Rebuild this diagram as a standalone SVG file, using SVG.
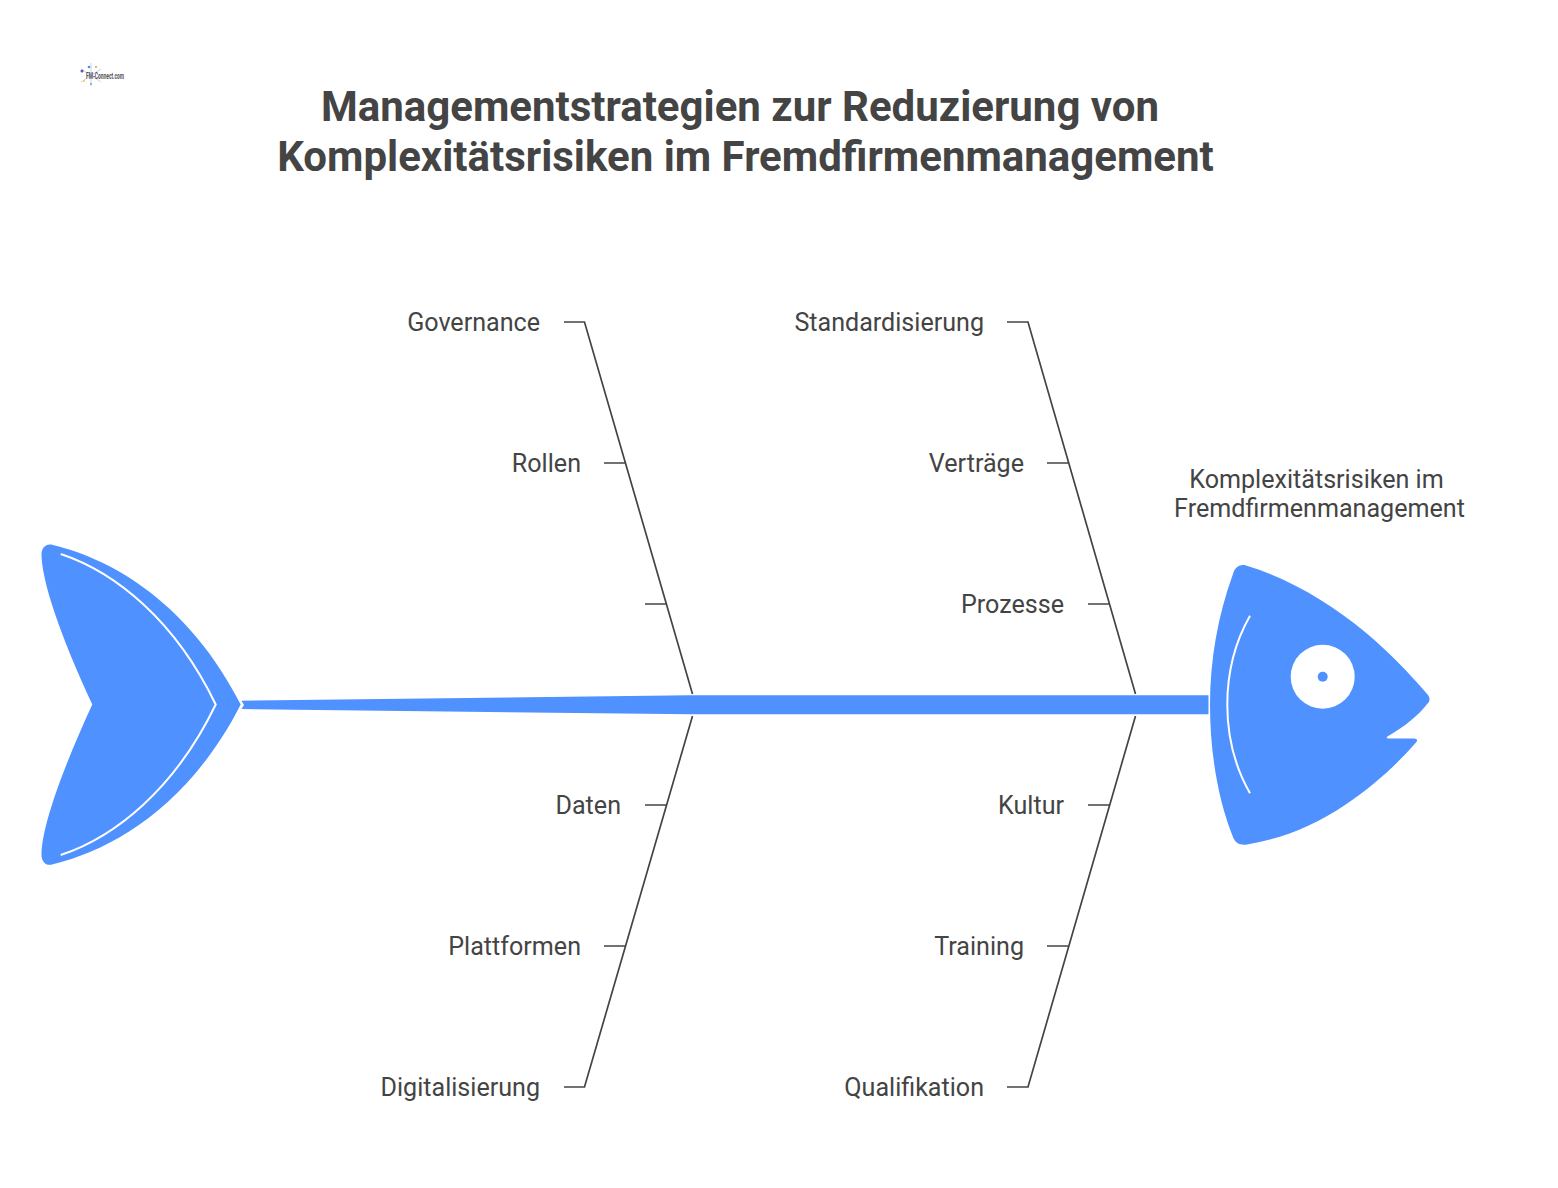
<svg xmlns="http://www.w3.org/2000/svg" width="1558" height="1188" viewBox="0 0 1558 1188">
<style>
text{font-family:Roboto,"Liberation Sans",sans-serif;fill:#444}
.t{font-size:42px;font-weight:700;text-anchor:middle}
.l{font-size:25.1px;text-anchor:end}
.c{font-size:25.1px;text-anchor:middle}
.b{fill:none;stroke:#444;stroke-width:1.7}
.f{fill:#4e91ff}
.w{fill:none;stroke:#fff;stroke-width:2}
</style>
<rect width="1558" height="1188" fill="#fff"/>
<g id="logo">
<g fill="none" stroke="#c9d3e6" stroke-width="1"><path d="M91 63V86M81 69L101 82M81 82L101 69"/></g>
<circle cx="82" cy="71" r="1.5" fill="#6a4fa8"/><circle cx="89" cy="67" r="1.3" fill="#4e91d0"/><circle cx="96" cy="67" r="1" fill="#e0a030"/><circle cx="84" cy="81" r="1" fill="#e8d040"/><circle cx="91" cy="84" r="1" fill="#60b0d0"/>
<text x="86" y="79" style="font-size:9px;font-weight:700;fill:#555" textLength="38" lengthAdjust="spacingAndGlyphs">FM-Connect.com</text>
</g>
<g id="title">
<text class="t" x="740" y="120.800">Managementstrategien zur Reduzierung von</text>
<text class="t" x="745.500" y="170.800">Komplexitätsrisiken im Fremdfirmenmanagement</text>
</g>
<g id="connectors">
<path id="spine" class="f" d="M241.500 700.700L690 695.300H1208.500V714.300H690L241.500 709L244 705Z"/>
<path class="b" d="M564 322H584.500L692.500 694M604 463H625.500M645 604H666.500"/>
<path class="b" d="M1007 322H1028L1135.500 694M1047 463H1069M1088 604H1110"/>
<path class="b" d="M564 1087H584.500L692.500 716M645 805H666.500M604 946H625.500"/>
<path class="b" d="M1007 1087H1028L1135.500 716M1088 805H1110M1047 946H1069"/>
</g>
<g id="tail">
<path class="f" d="M53 545C115 560 190 605 240.700 704.500C190 804 115 849 53 864.300C46 866.500 41 862 41.500 853C43 820 68 757 92.300 704.500C68 652 43 590 41.500 556C41 548 46 543 53 545Z"/>
<path class="w" d="M60.700 554C115 572 175 620 215.700 704.500C175 789 115 837 60.700 855"/>
</g>
<g id="head">
<path class="f" d="M1246 565.500C1290 579 1330 603 1365 632C1388 651 1410 674 1428 695C1430 698 1430 701 1428 703C1418 716 1404 727 1387.500 736.500C1386 737.500 1387 738.500 1389 738.500H1414C1417 738.500 1418 740.500 1416 742.500C1398 763 1375 785 1345 805C1315 825 1282 839 1247 844.500C1240 845.500 1235 843 1233 837C1218 800 1210 752 1210 705C1210 660 1218 615 1233 574C1235 567 1240 564 1246 565.500Z"/>
<path class="w" d="M1250 615.700C1235 642 1227.300 672 1227.300 704.700C1227.300 737 1235 767 1250 793.300"/>
<circle cx="1322.700" cy="676.700" r="32" fill="#fff"/>
<circle class="f" cx="1322.700" cy="676.700" r="5"/>
</g>
<g id="effect"><text class="c" x="1316.500" y="488">Komplexitätsrisiken im</text><text class="c" x="1319.500" y="517">Fremdfirmenmanagement</text></g>
<g id="governance"><text class="l" x="540" y="331.200">Governance</text></g>
<g id="rollen"><text class="l" x="581" y="472.200">Rollen</text></g>
<g id="daten"><text class="l" x="621" y="814.200">Daten</text></g>
<g id="plattformen"><text class="l" x="581" y="955.200">Plattformen</text></g>
<g id="digitalisierung"><text class="l" x="540" y="1096.200">Digitalisierung</text></g>
<g id="standardisierung"><text class="l" x="984" y="331.200">Standardisierung</text></g>
<g id="vertraege"><text class="l" x="1024" y="472.200">Verträge</text></g>
<g id="prozesse"><text class="l" x="1064" y="613.200">Prozesse</text></g>
<g id="kultur"><text class="l" x="1064" y="814.200">Kultur</text></g>
<g id="training"><text class="l" x="1024" y="955.200">Training</text></g>
<g id="qualifikation"><text class="l" x="984" y="1096.200">Qualifikation</text></g>
</svg>
